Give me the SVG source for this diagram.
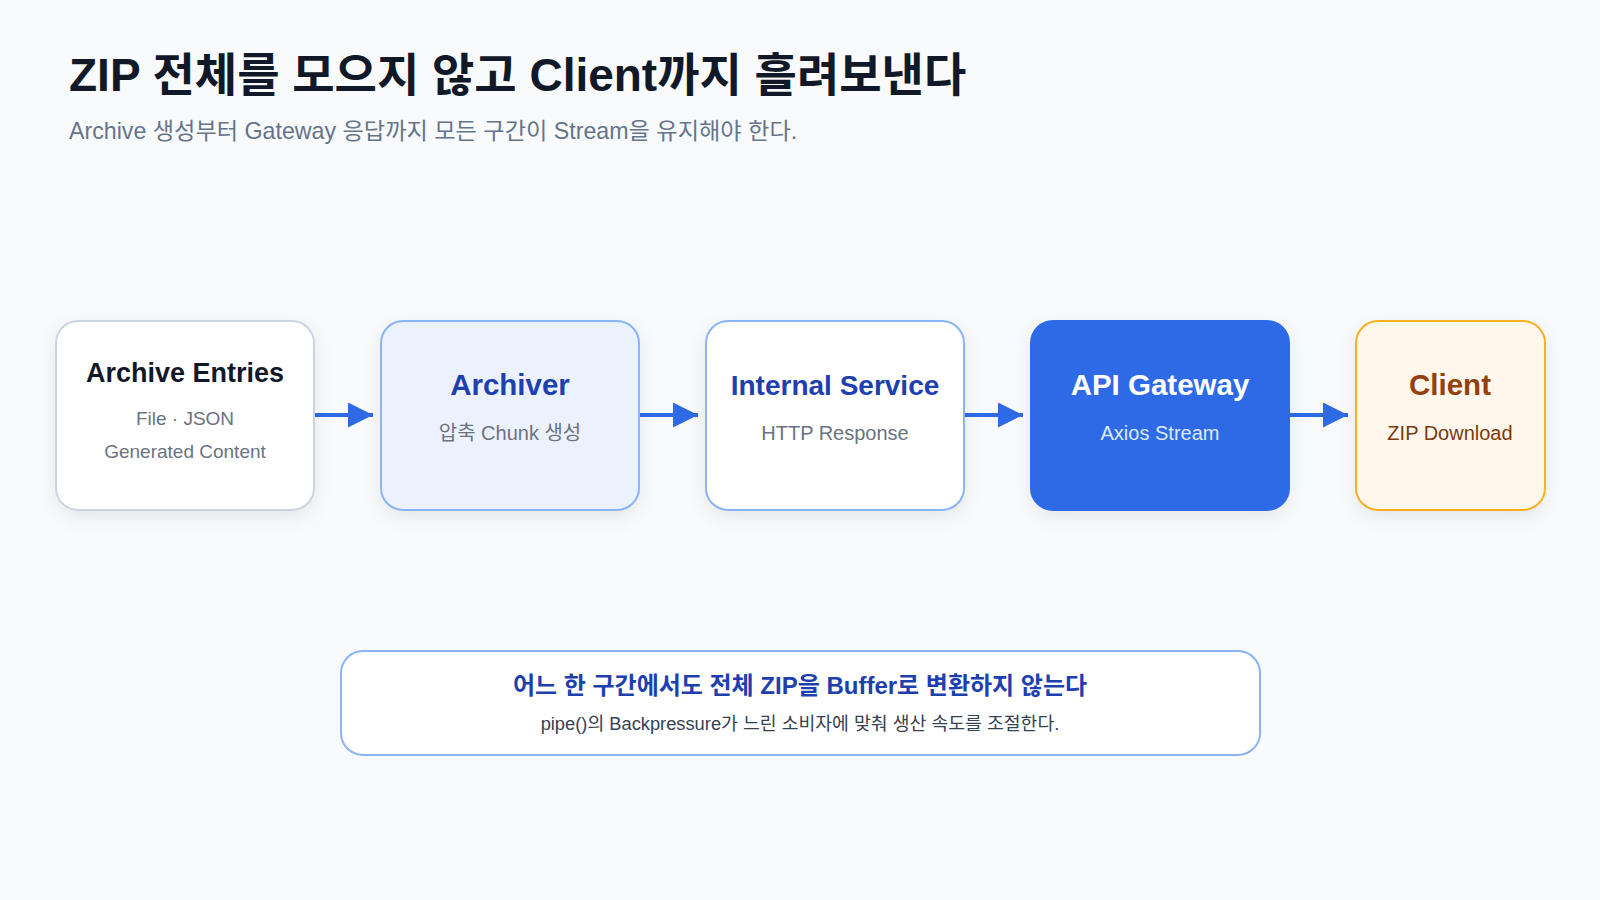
<svg xmlns="http://www.w3.org/2000/svg" width="1600" height="900" viewBox="0 0 1600 900">
<defs>
<filter id="sh" x="-20%" y="-20%" width="140%" height="150%">
<feDropShadow dx="0" dy="6" stdDeviation="9" flood-color="#0f172a" flood-opacity="0.08"/>
</filter>
<marker id="ah" viewBox="0 0 10 10" refX="10" refY="5" markerWidth="25" markerHeight="25" markerUnits="userSpaceOnUse" orient="auto">
<path d="M0,0 L10,5 L0,10 z" fill="#2f6ae6"/>
</marker>
<style>
text{font-family:"Liberation Sans","Noto Sans CJK KR",sans-serif;}
.t{font-size:29.5px;font-weight:bold;text-anchor:middle;}
.s{font-size:20px;text-anchor:middle;fill:#6b7280;}
.box{stroke-width:2;}
.conn line{stroke:#2f6ae6;stroke-width:4;}
</style>
</defs>
<rect width="1600" height="900" fill="#f8fafc"/>
<text x="69" y="91" font-size="46" font-weight="bold" fill="#111827">ZIP 전체를 모으지 않고 Client까지 흘려보낸다</text>
<text x="69" y="139" font-size="23.2" fill="#64748b">Archive 생성부터 Gateway 응답까지 모든 구간이 Stream을 유지해야 한다.</text>

<g class="conn">
<line x1="315" y1="415" x2="373" y2="415" marker-end="url(#ah)"/>
<line x1="640" y1="415" x2="698" y2="415" marker-end="url(#ah)"/>
<line x1="965" y1="415" x2="1023" y2="415" marker-end="url(#ah)"/>
<line x1="1290" y1="415" x2="1348" y2="415" marker-end="url(#ah)"/>
</g>

<g id="entries">
<rect class="box" x="56" y="321" width="258" height="189" rx="22" fill="#ffffff" stroke="#cbd5e1" filter="url(#sh)"/>
<text class="t" x="185" y="382" fill="#111827" style="font-size:27px">Archive Entries</text>
<text class="s" x="185" y="425" style="font-size:19px">File · JSON</text>
<text class="s" x="185" y="458" style="font-size:19px">Generated Content</text>
</g>
<g id="archiver">
<rect class="box" x="381" y="321" width="258" height="189" rx="22" fill="#ebf2fe" stroke="#8ab4f8" filter="url(#sh)"/>
<text class="t" x="510" y="395" fill="#1e40af">Archiver</text>
<text class="s" x="510" y="440">압축 Chunk 생성</text>
</g>
<g id="internal">
<rect class="box" x="706" y="321" width="258" height="189" rx="22" fill="#ffffff" stroke="#8ab4f8" filter="url(#sh)"/>
<text class="t" x="835" y="395" fill="#1e40af" style="font-size:28px">Internal Service</text>
<text class="s" x="835" y="440">HTTP Response</text>
</g>
<g id="gateway">
<rect class="box" x="1031" y="321" width="258" height="189" rx="22" fill="#2f6ae6" stroke="#2f6ae6" filter="url(#sh)"/>
<text class="t" x="1160" y="395" fill="#ffffff">API Gateway</text>
<text class="s" x="1160" y="440" style="fill:#dbeafe">Axios Stream</text>
</g>
<g id="client">
<rect class="box" x="1356" y="321" width="189" height="189" rx="22" fill="#fff7eb" stroke="#fbb024" filter="url(#sh)"/>
<text class="t" x="1450" y="395" fill="#92400e">Client</text>
<text class="s" x="1450" y="440" style="fill:#7c3a0e">ZIP Download</text>
</g>

<g id="note">
<rect x="341" y="651" width="919" height="104" rx="22" fill="#ffffff" stroke="#8ab4f8" stroke-width="2"/>
<text x="800" y="694" font-size="24" font-weight="bold" fill="#1e40af" text-anchor="middle">어느 한 구간에서도 전체 ZIP을 Buffer로 변환하지 않는다</text>
<text x="800" y="730" font-size="18.3" fill="#374151" text-anchor="middle">pipe()의 Backpressure가 느린 소비자에 맞춰 생산 속도를 조절한다.</text>
</g>
</svg>
